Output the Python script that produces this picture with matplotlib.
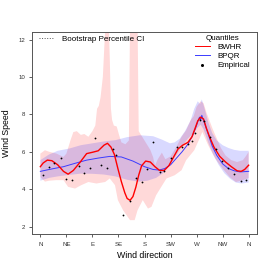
import numpy as np
import matplotlib
matplotlib.use("Agg")
import matplotlib.pyplot as plt
from matplotlib.lines import Line2D

plt.rcParams['font.family'] = ['Liberation Sans', 'DejaVu Sans']

# direction ticks
dir_ticks = [0, 45, 90, 135, 180, 225, 270, 315, 360]
dir_labels = ['N', 'NE', 'E', 'SE', 'S', 'SW', 'W', 'NW', 'N']

# BWHR quantile curve (red)
bwhr_deg = [0, 5, 12, 20, 30, 40, 48, 57, 69, 80, 90, 100, 110, 116, 122, 128, 134,
            140, 146, 150, 155, 160, 165, 170, 175, 182, 190, 198, 206, 214, 222,
            230, 238, 246, 255, 262, 268, 272, 277, 282, 287, 293, 300, 310, 320,
            330, 340, 347, 353, 360]
bwhr_val = [5.2, 5.4, 5.55, 5.52, 5.3, 4.95, 4.8, 5.0, 5.45, 5.9, 5.97, 6.05, 6.35,
            6.45, 6.25, 5.85, 5.1, 4.4, 3.8, 3.5, 3.4, 3.6, 4.1, 4.75, 5.25, 5.5,
            5.45, 5.2, 5.0, 5.0, 5.25, 5.7, 6.15, 6.35, 6.5, 6.8, 7.3, 7.65, 7.85,
            7.75, 7.25, 6.75, 6.25, 5.75, 5.45, 5.2, 4.98, 4.95, 5.05, 5.28]

# BPQR quantile curve (blue)
bpqr_deg = [0, 20, 40, 60, 80, 100, 120, 140, 160, 180, 195, 205, 215, 225, 235,
            245, 255, 263, 268, 272, 275, 277, 279, 281, 284, 290, 297, 305, 315,
            325, 335, 345, 360]
bpqr_val = [4.95, 5.08, 5.2, 5.38, 5.55, 5.66, 5.75, 5.72, 5.5, 5.2, 5.05, 5.02,
            5.1, 5.3, 5.65, 6.0, 6.4, 6.85, 7.25, 7.6, 7.85, 7.7, 7.95, 7.75, 7.5,
            6.95, 6.3, 5.8, 5.35, 5.1, 4.98, 4.92, 4.95]

# BWHR bootstrap CI
bwhr_up_deg = [0, 8, 15, 28, 40, 45, 52, 57, 63, 70, 76, 83, 90, 95, 98, 101, 104,
               108, 111, 113, 118, 120, 122, 124, 127, 132, 136, 140, 147, 153, 155,
               168, 170, 180, 190, 195, 198, 203, 210, 216, 225, 235, 244, 252, 260,
               265, 270, 277, 282, 287, 298, 305, 312, 320, 330, 340, 350, 356, 360]
bwhr_up = [5.9, 6.08, 6.0, 5.9, 5.72, 5.9, 6.6, 7.05, 7.1, 6.9, 6.95, 6.8, 7.1, 7.4,
           8.3, 8.45, 8.9, 10.0, 11.9, 13.0, 13.0, 11.0, 8.3, 7.7, 7.4, 7.35, 6.9,
           6.5, 6.4, 6.6, 13.0, 13.0, 7.1, 6.6, 6.1, 5.7, 5.25, 5.6, 5.95, 5.6, 5.75,
           6.26, 6.8, 7.15, 7.7, 7.9, 8.4, 8.7, 8.6, 8.1, 7.2, 6.7, 6.2, 5.8, 5.55,
           5.45, 5.55, 5.8, 6.0]
bwhr_lo_deg = [0, 8, 15, 28, 40, 48, 60, 70, 83, 97, 112, 120, 129, 134, 143, 155,
               163, 168, 177, 186, 192, 200, 209, 218, 232, 244, 252, 266, 275, 280,
               290, 302, 315, 327, 338, 350, 358, 360]
bwhr_lo = [4.65, 4.4, 4.45, 4.48, 4.48, 4.12, 4.03, 4.2, 4.38, 4.3, 4.38, 4.57, 4.21,
           3.41, 2.87, 2.34, 2.34, 2.87, 3.41, 2.96, 3.05, 3.67, 4.12, 4.57, 4.74,
           5.01, 5.55, 6.08, 6.7, 7.06, 6.35, 5.64, 5.1, 4.65, 4.38, 4.48, 4.57, 4.6]

# BPQR bootstrap CI
bpqr_up_deg = [0, 15, 30, 50, 70, 90, 110, 130, 150, 172, 195, 210, 224, 232, 241,
               250, 260, 266, 272, 276, 279, 283, 290, 297, 305, 315, 325, 335, 345,
               355, 360]
bpqr_up = [5.55, 5.85, 6.05, 6.17, 6.35, 6.45, 6.55, 6.62, 6.78, 6.88, 6.83, 6.65,
           6.45, 6.5, 6.7, 7.1, 7.7, 8.3, 8.7, 8.55, 8.8, 8.4, 7.6, 7.0, 6.6, 6.35,
           6.2, 6.1, 6.05, 6.05, 6.05]
bpqr_lo_deg = [0, 15, 30, 50, 70, 90, 110, 130, 150, 170, 185, 200, 212, 222, 235,
               245, 255, 265, 272, 277, 282, 290, 298, 308, 318, 328, 338, 348, 360]
bpqr_lo = [4.45, 4.6, 4.68, 4.76, 4.83, 4.82, 4.78, 4.68, 4.5, 4.4, 4.45, 4.6, 4.85,
           5.2, 5.8, 6.3, 6.7, 7.0, 7.3, 7.45, 7.2, 6.5, 5.9, 5.3, 4.85, 4.55, 4.35,
           4.3, 4.35]

# empirical quantiles
emp_deg = [4.6, 15, 24, 36, 44, 54.5, 66.5, 75, 86, 95, 105, 115.8, 125, 130.7, 143,
           155, 166, 175, 185, 195.5, 206, 214, 225, 236, 245, 255, 262, 268, 276,
           282, 294, 304, 314, 324, 334, 346, 355]
emp_val = [4.73, 5.2, 5.38, 5.69, 4.53, 4.51, 5.24, 4.85, 5.13, 6.72, 5.28, 5.12,
           6.12, 5.83, 2.64, 3.38, 4.6, 4.37, 5.08, 6.52, 4.9, 4.96, 5.65, 6.23,
           6.26, 6.4, 6.6, 7.0, 7.72, 7.65, 6.79, 6.15, 5.49, 5.12, 4.8, 4.41, 4.49]

fig = plt.figure(figsize=(2.74, 2.74), dpi=100)
ax = fig.add_axes([0.1168, 0.146, 0.8212, 0.737])

ax.fill(np.r_[bwhr_up_deg, bwhr_lo_deg[::-1]], np.r_[bwhr_up, bwhr_lo[::-1]],
        color='red', alpha=0.15, lw=0)
ax.fill(np.r_[bpqr_up_deg, bpqr_lo_deg[::-1]], np.r_[bpqr_up, bpqr_lo[::-1]],
        color='blue', alpha=0.15, lw=0)
ax.plot(bpqr_deg, bpqr_val, color='#3b3bff', lw=0.7)
ax.plot(bwhr_deg, bwhr_val, color='red', lw=1.0)
ax.plot(emp_deg, emp_val, 'o', color='black', ms=1.3, mew=0)

ax.set_xlim(-14.4, 374.4)
ax.set_ylim(1.6, 12.4)
ax.set_xticks(dir_ticks)
ax.set_xticklabels(dir_labels)
ax.set_yticks([2, 4, 6, 8, 10, 12])
ax.tick_params(labelsize=4.4, length=2.3, width=0.6, color='#444444',
               labelcolor='#333333')
ax.tick_params(axis='x', pad=3.6)
ax.tick_params(axis='y', pad=2.8)
for s in ax.spines.values():
    s.set_linewidth(0.7)
    s.set_color('#555555')

ax.set_xlabel('Wind direction', fontsize=6.3, labelpad=3)
ax.set_ylabel('Wind Speed', fontsize=6.3, labelpad=5.5)

ci_handle = [Line2D([], [], color='#555555', ls=':', lw=0.7)]
leg1 = ax.legend(ci_handle, ['Bootstrap Percentile CI'], loc='upper left',
                 bbox_to_anchor=(0.03, 0.985), frameon=False, fontsize=5.8,
                 handlelength=1.75, handletextpad=1.1, borderpad=0,
                 borderaxespad=0)
ax.add_artist(leg1)

q_handles = [Line2D([], [], color='red', lw=0.7),
             Line2D([], [], color='#3b3bff', lw=0.7),
             Line2D([], [], color='black', marker='o', ls='', ms=2.2, mew=0)]
ax.legend(q_handles, ['BWHR', 'BPQR', 'Empirical'], title='Quantiles',
          loc='upper left', bbox_to_anchor=(0.724, 0.985), frameon=False,
          fontsize=5.8, title_fontsize=5.8, handlelength=1.85, handletextpad=1.0,
          labelspacing=0.18, borderpad=0, borderaxespad=0)

fig.savefig('out.png', dpi=100)
